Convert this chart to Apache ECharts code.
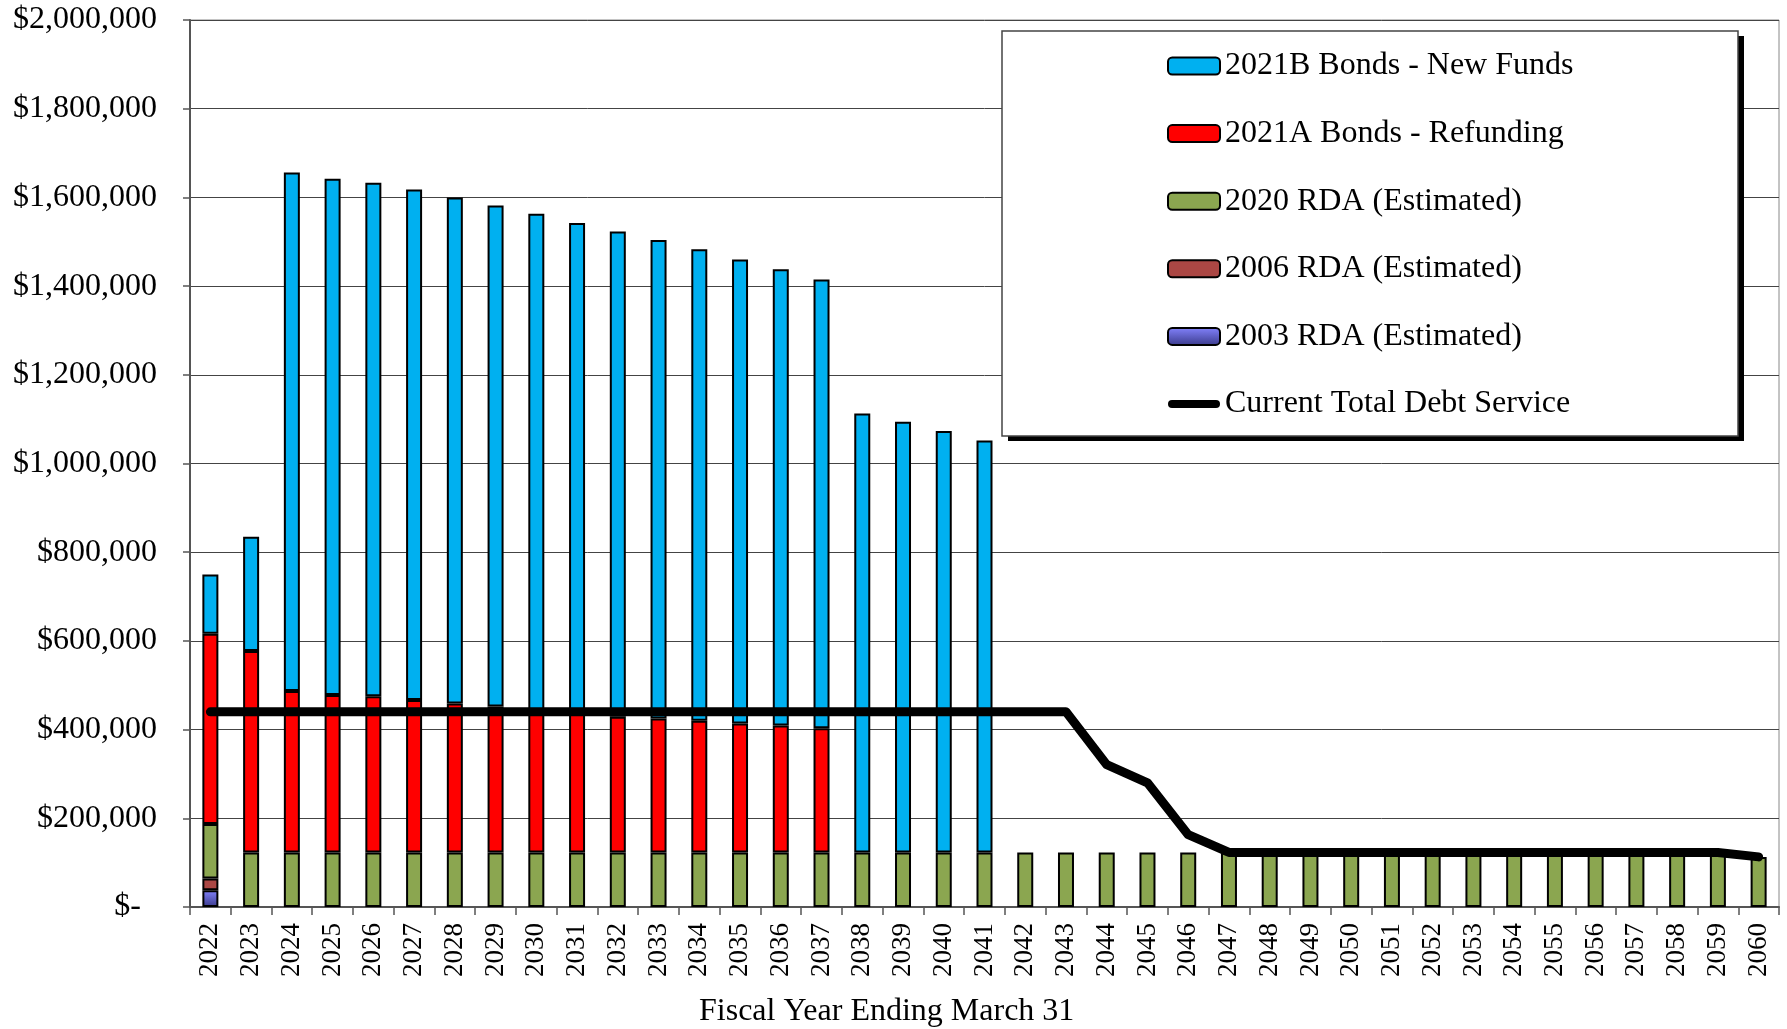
<!DOCTYPE html>
<html>
<head>
<meta charset="utf-8">
<title>Debt Service</title>
<script src="https://cdn.jsdelivr.net/npm/echarts@6/dist/echarts.min.js"></script>
<style>
  html, body { margin: 0; padding: 0; background: #fff; }
  #main { width: 1787px; height: 1029px; }
</style>
</head>
<body>
<div id="main"></div>
<script>
// fiscal years
const years = []
for (let y = 2022; y <= 2060; y++) years.push(String(y))

// values (dollars)
const rda2003 = [38000]
const rda2006 = [26000]
const rda2020 = [
  123000, 123000, 123000, 123000, 123000, 123000, 123000, 123000, 123000, 123000,
  123000, 123000, 123000, 123000, 123000, 123000, 123000, 123000, 123000, 123000,
  123000, 123000, 123000, 123000, 123000, 123000, 123000, 123000, 123000, 123000,
  123000, 123000, 123000, 123000, 123000, 123000, 123000, 123000, 113000
]
const bonds2021A = [
  429000, 454000, 364000, 355000, 352000, 344000, 336000, 329000, 321000, 313000,
  306000, 302000, 297000, 291000, 286000, 280000
]
const bonds2021B = [
  134000, 258000, 1169000, 1164000, 1158000, 1151000, 1141000, 1130000, 1119000, 1106000,
  1094000, 1079000, 1063000, 1046000, 1029000, 1012000, 990000, 971000, 950000, 929000
]
const currentTotal = [
  440000, 440000, 440000, 440000, 440000, 440000, 440000, 440000, 440000, 440000,
  440000, 440000, 440000, 440000, 440000, 440000, 440000, 440000, 440000, 440000,
  440000, 440000, 321000, 280000, 163000, 123000, 123000, 123000, 123000, 123000,
  123000, 123000, 123000, 123000, 123000, 123000, 123000, 123000, 113000
]

const fontFamily = "'Liberation Serif', 'Times New Roman', serif"

// thick rounded bar used as legend icon for the line
const lineIcon = 'path://M4,0 L48,0 A4,4 0 0 1 48,8 L4,8 A4,4 0 0 1 4,0 Z'

const legendData = [
  { name: '2021B Bonds - New Funds' },
  { name: '2021A Bonds - Refunding' },
  { name: '2020 RDA (Estimated)' },
  { name: '2006 RDA (Estimated)' },
  { name: '2003 RDA (Estimated)' },
  { name: 'Current Total Debt Service', icon: lineIcon, itemStyle: { color: '#000', borderWidth: 0 } }
]

// pad short arrays to all years, empty years stay blank
function fill(arr) {
  return years.map((y, i) => (arr[i] ? arr[i] : null))
}

function barSeries(name, data, color) {
  return {
    name: name,
    type: 'bar',
    stack: 'debt',
    barWidth: 16,
    data: fill(data),
    itemStyle: {
      color: color,
      borderColor: '#000',
      borderWidth: 2
    }
  }
}

const chart = echarts.init(document.getElementById('main'))

const option = {
  animation: false,
  backgroundColor: '#fff',
  textStyle: { fontFamily: fontFamily, color: '#000' },
  grid: {
    left: 190,
    right: 8,
    top: 20,
    bottom: 122,
    show: true,
    borderColor: '#888',
    borderWidth: 1
  },
  title: {
    text: 'Fiscal Year Ending March 31',
    left: 699,
    top: 996,
    padding: 0,
    textStyle: { fontFamily: fontFamily, fontSize: 32, fontWeight: 'normal', color: '#000' }
  },
  // legend box with its hard black shadow
  graphic: [
    {
      type: 'rect',
      z: 10,
      shape: { x: 1008, y: 36, width: 736, height: 405 },
      style: { fill: '#000' }
    },
    {
      type: 'rect',
      z: 11,
      shape: { x: 1002, y: 31, width: 736, height: 405 },
      style: { fill: '#fff', stroke: '#444', lineWidth: 1.5 }
    }
  ],
  legend: {
    data: legendData,
    orient: 'vertical',
    left: 1002,
    top: 31,
    z: 20,
    padding: [19, 150, 16, 165],
    itemWidth: 52,
    itemHeight: 17,
    itemGap: 35.6,
    textStyle: { fontFamily: fontFamily, fontSize: 32, lineHeight: 32, color: '#000' }
  },
  xAxis: {
    type: 'category',
    data: years,
    boundaryGap: true,
    axisLine: { lineStyle: { color: '#555', width: 2 } },
    axisTick: { show: true, length: 8, lineStyle: { color: '#555', width: 1.5 } },
    axisLabel: {
      interval: 0,
      rotate: 90,
      margin: 16,
      fontFamily: fontFamily,
      fontSize: 27,
      color: '#000'
    },
    splitLine: { show: false }
  },
  yAxis: {
    type: 'value',
    min: 0,
    max: 2000000,
    interval: 200000,
    axisLine: { show: true, lineStyle: { color: '#555', width: 2 } },
    axisTick: { show: true, length: 7, lineStyle: { color: '#555', width: 1.5 } },
    axisLabel: {
      margin: 33,
      fontFamily: fontFamily,
      fontSize: 32,
      color: '#000',
      formatter: function(v) {
        if (v === 0) return '$-  '
        return '$' + v.toLocaleString('en-US')
      }
    },
    splitLine: { show: true, lineStyle: { color: '#444', width: 1 } }
  },
  series: [
    barSeries('2003 RDA (Estimated)', rda2003, {
      type: 'linear', x: 0, y: 0, x2: 0, y2: 1,
      colorStops: [{ offset: 0, color: '#8484ff' }, { offset: 1, color: '#3a3a8a' }]
    }),
    barSeries('2006 RDA (Estimated)', rda2006, '#AB4744'),
    barSeries('2020 RDA (Estimated)', rda2020, '#8BA650'),
    barSeries('2021A Bonds - Refunding', bonds2021A, '#FF0000'),
    barSeries('2021B Bonds - New Funds', bonds2021B, '#00B0F0'),
    {
      name: 'Current Total Debt Service',
      type: 'line',
      data: currentTotal,
      symbol: 'none',
      z: 5,
      itemStyle: { color: '#000' },
      lineStyle: { color: '#000', width: 9, cap: 'round', join: 'round' }
    }
  ]
}

chart.setOption(option)
</script>
</body>
</html>
